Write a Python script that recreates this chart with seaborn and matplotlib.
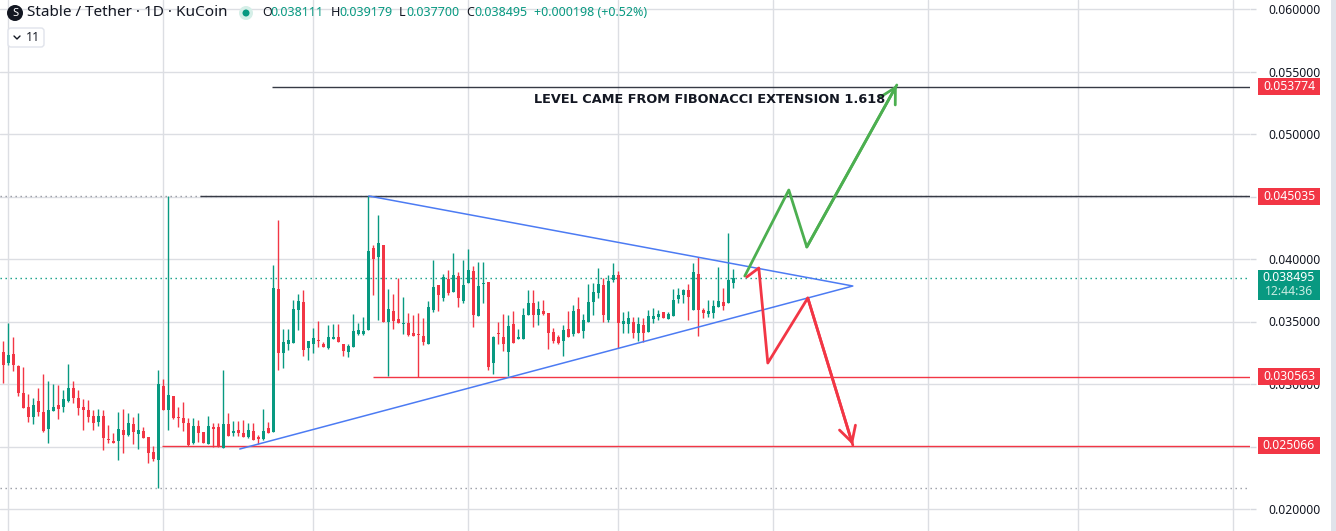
import numpy as np
import pandas as pd
import seaborn as sns
import matplotlib.pyplot as plt
import matplotlib.transforms as mtransforms
from matplotlib.patches import Circle, Rectangle, FancyBboxPatch

# Stable / Tether 1D KuCoin - daily candles
start_date = "2025-02-28"
opens = [0.03256, 0.03168, 0.03240, 0.03144, 0.02928, 0.02816, 0.02736, 0.02864, 0.02776, 0.02640,
         0.02784, 0.02832, 0.02816, 0.02864, 0.02968, 0.02888, 0.02816, 0.02792, 0.02744, 0.02696,
         0.02744, 0.02560, 0.02544, 0.02544, 0.02632, 0.02592, 0.02680, 0.02600, 0.02624, 0.02576,
         0.02456, 0.02392, 0.02984, 0.02792, 0.02904, 0.02736, 0.02728, 0.02688, 0.02528, 0.02664,
         0.02616, 0.02520, 0.02656, 0.02656, 0.02488, 0.02680, 0.02608, 0.02632, 0.02608, 0.02576,
         0.02624, 0.02576, 0.02560, 0.02648, 0.02616, 0.03760, 0.03248, 0.03320, 0.03328, 0.03592,
         0.03656, 0.03288, 0.03320, 0.03352, 0.03320, 0.03288, 0.03360, 0.03376, 0.03320, 0.03256,
         0.03296, 0.03400, 0.03400, 0.03432, 0.04088, 0.04016, 0.04112, 0.03496, 0.03584, 0.03520,
         0.03480, 0.03488, 0.03408, 0.03400, 0.03384, 0.03320, 0.03592, 0.03792, 0.03688, 0.03840,
         0.03736, 0.03864, 0.03664, 0.03808, 0.03904, 0.03544, 0.03800, 0.03816, 0.03168, 0.03408,
         0.03376, 0.03256, 0.03480, 0.03360, 0.03360, 0.03552, 0.03648, 0.03552, 0.03584, 0.03568,
         0.03416, 0.03376, 0.03344, 0.03440, 0.03400, 0.03600, 0.03424, 0.03496, 0.03656, 0.03728,
         0.03792, 0.03512, 0.03832, 0.03872, 0.03480, 0.03480, 0.03496, 0.03408, 0.03472, 0.03416,
         0.03520, 0.03536, 0.03576, 0.03520, 0.03544, 0.03680, 0.03712, 0.03752, 0.03592, 0.03880,
         0.03592, 0.03560, 0.03568, 0.03616, 0.03656, 0.03648, 0.038111]
highs = [0.03344, 0.03488, 0.03376, 0.03152, 0.03136, 0.02920, 0.02888, 0.02968, 0.03080, 0.03024,
         0.03000, 0.02992, 0.02952, 0.03160, 0.03024, 0.02952, 0.02880, 0.02872, 0.02792, 0.02800,
         0.02792, 0.02672, 0.02608, 0.02776, 0.02800, 0.02768, 0.02736, 0.02768, 0.02656, 0.02576,
         0.02504, 0.03112, 0.03040, 0.04504, 0.02904, 0.02816, 0.02856, 0.02728, 0.02728, 0.02712,
         0.02616, 0.02744, 0.02688, 0.02688, 0.03112, 0.02768, 0.02704, 0.02704, 0.02712, 0.02688,
         0.02688, 0.02592, 0.02800, 0.02696, 0.03952, 0.04312, 0.03440, 0.03440, 0.03672, 0.03720,
         0.03752, 0.03344, 0.03448, 0.03504, 0.03336, 0.03472, 0.03480, 0.03480, 0.03320, 0.03320,
         0.03560, 0.03488, 0.03536, 0.04504, 0.04112, 0.04352, 0.04112, 0.03760, 0.03720, 0.03848,
         0.03696, 0.03568, 0.03552, 0.03568, 0.03528, 0.03664, 0.03992, 0.03792, 0.03880, 0.03912,
         0.04048, 0.03896, 0.03992, 0.04080, 0.03944, 0.03976, 0.03976, 0.03816, 0.03384, 0.03496,
         0.03560, 0.03552, 0.03584, 0.03440, 0.03608, 0.03752, 0.03752, 0.03664, 0.03672, 0.03568,
         0.03448, 0.03392, 0.03472, 0.03584, 0.03632, 0.03696, 0.03560, 0.03800, 0.03808, 0.03928,
         0.03848, 0.03872, 0.03968, 0.03904, 0.03576, 0.03584, 0.03536, 0.03536, 0.03528, 0.03592,
         0.03608, 0.03592, 0.03576, 0.03576, 0.03760, 0.03768, 0.03760, 0.03800, 0.03968, 0.04016,
         0.03608, 0.03672, 0.03672, 0.03936, 0.03768, 0.04208, 0.039179]
lows = [0.03008, 0.03152, 0.03104, 0.02904, 0.02808, 0.02696, 0.02680, 0.02744, 0.02616, 0.02528,
        0.02784, 0.02720, 0.02776, 0.02856, 0.02848, 0.02752, 0.02632, 0.02696, 0.02632, 0.02664,
        0.02472, 0.02528, 0.02528, 0.02392, 0.02448, 0.02584, 0.02520, 0.02480, 0.02568, 0.02368,
        0.02384, 0.02168, 0.02792, 0.02632, 0.02720, 0.02656, 0.02624, 0.02504, 0.02520, 0.02536,
        0.02528, 0.02520, 0.02496, 0.02496, 0.02488, 0.02584, 0.02584, 0.02584, 0.02576, 0.02568,
        0.02552, 0.02520, 0.02552, 0.02608, 0.02616, 0.03112, 0.03128, 0.03272, 0.03328, 0.03432,
        0.03224, 0.03192, 0.03248, 0.03296, 0.03296, 0.03280, 0.03360, 0.03336, 0.03224, 0.03216,
        0.03296, 0.03392, 0.03392, 0.03432, 0.03712, 0.03512, 0.03496, 0.03064, 0.03440, 0.03488,
        0.03400, 0.03384, 0.03384, 0.03056, 0.03312, 0.03320, 0.03576, 0.03584, 0.03664, 0.03712,
        0.03736, 0.03616, 0.03648, 0.03808, 0.03456, 0.03544, 0.03648, 0.03112, 0.03080, 0.03320,
        0.03264, 0.03064, 0.03328, 0.03360, 0.03360, 0.03552, 0.03456, 0.03472, 0.03552, 0.03280,
        0.03328, 0.03320, 0.03224, 0.03376, 0.03384, 0.03408, 0.03368, 0.03496, 0.03552, 0.03688,
        0.03496, 0.03496, 0.03816, 0.03288, 0.03408, 0.03408, 0.03368, 0.03344, 0.03336, 0.03416,
        0.03488, 0.03512, 0.03528, 0.03520, 0.03544, 0.03648, 0.03648, 0.03512, 0.03592, 0.03384,
        0.03528, 0.03536, 0.03528, 0.03616, 0.03592, 0.03648, 0.037700]
closes = [0.03152, 0.03232, 0.03152, 0.02928, 0.02808, 0.02736, 0.02832, 0.02776, 0.02624, 0.02792,
          0.02816, 0.02800, 0.02880, 0.02968, 0.02888, 0.02808, 0.02792, 0.02736, 0.02688, 0.02744,
          0.02568, 0.02552, 0.02528, 0.02640, 0.02592, 0.02688, 0.02616, 0.02632, 0.02568, 0.02448,
          0.02400, 0.03000, 0.02792, 0.02912, 0.02728, 0.02728, 0.02688, 0.02512, 0.02664, 0.02608,
          0.02528, 0.02664, 0.02640, 0.02496, 0.02680, 0.02584, 0.02624, 0.02608, 0.02576, 0.02632,
          0.02552, 0.02560, 0.02624, 0.02608, 0.03768, 0.03248, 0.03336, 0.03352, 0.03600, 0.03664,
          0.03272, 0.03344, 0.03368, 0.03344, 0.03296, 0.03376, 0.03376, 0.03336, 0.03264, 0.03304,
          0.03424, 0.03432, 0.03424, 0.04064, 0.04000, 0.04128, 0.03496, 0.03600, 0.03504, 0.03488,
          0.03488, 0.03392, 0.03384, 0.03392, 0.03336, 0.03616, 0.03776, 0.03712, 0.03856, 0.03728,
          0.03872, 0.03688, 0.03792, 0.03912, 0.03552, 0.03784, 0.03808, 0.03136, 0.03376, 0.03400,
          0.03320, 0.03464, 0.03328, 0.03376, 0.03552, 0.03648, 0.03552, 0.03600, 0.03560, 0.03408,
          0.03344, 0.03328, 0.03432, 0.03376, 0.03584, 0.03408, 0.03512, 0.03656, 0.03736, 0.03800,
          0.03552, 0.03824, 0.03872, 0.03488, 0.03504, 0.03528, 0.03408, 0.03480, 0.03408, 0.03544,
          0.03544, 0.03560, 0.03528, 0.03560, 0.03672, 0.03712, 0.03752, 0.03696, 0.03896, 0.03592,
          0.03568, 0.03584, 0.03624, 0.03664, 0.03624, 0.03832, 0.038495]

price_ticks = [0.020, 0.025, 0.030, 0.035, 0.040, 0.045, 0.050, 0.055, 0.060]
hidden_ticks = [0.025, 0.045]                   # fully covered by level labels
levels = [0.053774, 0.045035, 0.030563, 0.025066]
level_start = [53.8, 39.3, 74.0, 31.8]          # bar index where each ray begins
level_colors = ["#363a45", "#363a45", "#f23645", "#f23645"]
last_price = 0.038495
countdown = "12:44:36"
ohlc_text = ["0.038111", "0.039179", "0.037700", "0.038495"]
change_text = "+0.000198 (+0.52%)"

# drawings: (bar index, price)
triangle_idx = [73.1, 169.9, 47.3]
triangle_px = [0.04504, 0.03784, 0.02480]
bull_idx = [148.3, 157.1, 160.7, 178.7]
bull_px = [0.03864, 0.04552, 0.04096, 0.05392]
bear_idx = [148.7, 151.1, 152.9, 160.9, 169.9]
bear_px = [0.03856, 0.03928, 0.03168, 0.03688, 0.02512]
note = "LEVEL CAME FROM FIBONACCI EXTENSION 1.618"
note_pos = (141.3, 0.05280)

UP = "#089981"
DOWN = "#f23645"
INK = "#131722"

df = pd.DataFrame({"open": opens, "high": highs, "low": lows, "close": closes})
df["idx"] = np.arange(len(df))
df["color"] = np.where(df["close"] >= df["open"], UP, DOWN)

sns.set_theme(style="white")
plt.rcParams["font.family"] = ["Noto Sans", "DejaVu Sans"]

W, H = 1336, 531
fig = plt.figure(figsize=(W / 100, H / 100), dpi=100)
ax = fig.add_axes([0, 0, 1250 / W, 1])
ax.set_xlim(-0.66, 249.34)
ax.set_ylim(0.01824, 0.06072)
for s in ax.spines.values():
    s.set_visible(False)

# month grid
dates = pd.date_range(start_date, periods=251, freq="D")
month_idx = np.where(dates.day == 1)[0]
ax.set_xticks(month_idx)
ax.tick_params(axis="x", length=0, labelbottom=False)
ax.yaxis.tick_right()
ax.set_yticks(price_ticks)
ax.set_yticklabels(["" if v in hidden_ticks else f"{v:.6f}" for v in price_ticks])
ax.tick_params(axis="y", length=4.5, width=1, color="#d6d8de", pad=8.5,
               labelsize=8.8, labelcolor=INK)
ax.grid(True, color="#dcdee3", lw=1)
ax.set_axisbelow(True)

# candles
body = np.maximum((df["close"] - df["open"]).abs(), 0.00008)
bottom = np.minimum(df["open"], df["close"])
ax.vlines(df["idx"], df["low"], df["high"], colors=df["color"], lw=1, zorder=3)
ax.bar(df["idx"], body, bottom=bottom, width=0.7, color=df["color"], lw=0, zorder=3.1)

# price lines
dots = (0, (1, 2.6))
ax.axhline(last_price, color=UP, lw=1, ls=dots, zorder=2)
ax.axhline(df["high"].max(), color="#9598a1", lw=1, ls=dots, zorder=2)
ax.axhline(df["low"].min(), color="#9598a1", lw=1, ls=dots, zorder=2)
for lv, st, c in zip(levels, level_start, level_colors):
    ax.hlines(lv, st, 249.34, color=c, lw=1, zorder=2.5)

# triangle and scenario paths
sns.lineplot(x=triangle_idx, y=triangle_px, sort=False, estimator=None,
             color="#4c7bf3", lw=1.1, ax=ax, zorder=4)
sns.lineplot(x=bull_idx, y=bull_px, sort=False, estimator=None,
             color="#4caf50", lw=2, ax=ax, zorder=4)
sns.lineplot(x=bear_idx, y=bear_px, sort=False, estimator=None,
             color="#f23645", lw=2, ax=ax, zorder=4)
for xs, ys, c in [(bull_idx, bull_px, "#4caf50"), (bear_idx, bear_px, "#f23645")]:
    ax.annotate("", xy=(xs[-1], ys[-1]), xytext=(xs[-2], ys[-2]),
                arrowprops=dict(arrowstyle="->,head_length=0.55,head_width=0.3",
                                color=c, lw=2, mutation_scale=20,
                                shrinkA=0, shrinkB=0), zorder=4)

ax.text(note_pos[0], note_pos[1], note, ha="center", va="center", family="DejaVu Sans",
        fontsize=9.3, fontweight="bold", color=INK, zorder=6)

# price scale labels
trans = mtransforms.blended_transform_factory(ax.transAxes, ax.transData)
px_y = (0.06072 - 0.01824) / H
bx0, bw = 1258 / 1250, 62 / 1250
for lv in levels:
    ax.add_patch(Rectangle((bx0, lv - 8.5 * px_y), bw, 17 * px_y, transform=trans,
                           fc=DOWN, ec="none", clip_on=False, zorder=5))
    ax.text(bx0 + bw / 2, lv, f"{lv:.6f}", transform=trans, ha="center", va="center",
            color="white", fontsize=8.8, zorder=6, clip_on=False)
ax.add_patch(Rectangle((bx0, last_price - 22 * px_y), bw, 30 * px_y, transform=trans,
                       fc=UP, ec="none", clip_on=False, zorder=5))
ax.text(bx0 + bw / 2, last_price, f"{last_price:.6f}", transform=trans, ha="center",
        va="center", color="white", fontsize=8.8, zorder=6, clip_on=False)
ax.text(bx0 + bw / 2, last_price - 14 * px_y, countdown, transform=trans, ha="center",
        va="center", color="#c8ece2", fontsize=8.8, zorder=6, clip_on=False)

# right edge strip
fig.add_artist(Rectangle((1331 / W, 0), 5 / W, 1, transform=fig.transFigure,
                         fc="#e0e3eb", ec="none"))

# legend header
ident = mtransforms.IdentityTransform()
fig.add_artist(Circle((15, H - 13), 8, transform=ident, fc=INK, ec="none"))
fig.text(15 / W, 1 - 13.5 / H, "S", ha="center", va="center", color="white",
         fontsize=8, fontweight="bold")
fig.text(27 / W, 1 - 13 / H, "Stable / Tether · 1D · KuCoin", va="center",
         fontsize=11, color=INK)
fig.add_artist(Circle((246, H - 13), 7, transform=ident, fc="#d5efe8", ec="none"))
fig.add_artist(Circle((246, H - 13), 3.5, transform=ident, fc=UP, ec="none"))
for lab, x_lab, val, x_val in zip("OHLC", [262, 331, 399, 466], ohlc_text, [270, 339, 406, 474]):
    fig.text(x_lab / W, 1 - 13 / H, lab, va="center", fontsize=9, color=INK)
    fig.text(x_val / W, 1 - 13 / H, val, va="center", fontsize=9, color=UP)
fig.text(534 / W, 1 - 13 / H, change_text, va="center", fontsize=9, color=UP)

fig.add_artist(FancyBboxPatch((8, H - 47), 36, 19, boxstyle="round,pad=0,rounding_size=3",
                              transform=ident, fc="white", ec="#e0e3eb", lw=1))
fig.add_artist(plt.Line2D([14, 17, 20], [H - 36, H - 39, H - 36], transform=ident,
                          color=INK, lw=1))
fig.text(26 / W, 1 - 37.5 / H, "11", va="center", fontsize=9, color=INK)

fig.savefig("out.png", dpi=100)
